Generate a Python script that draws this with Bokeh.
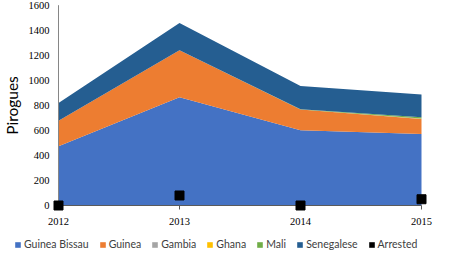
import math
from bokeh.plotting import figure
from bokeh.models import ColumnDataSource, Legend, LegendItem, Range1d, LabelSet, Label
from bokeh.embed import file_html
from bokeh.resources import INLINE

# ---- data ----
years = [2012, 2013, 2014, 2015]
year_labels = ["2012", "2013", "2014", "2015"]
guinea_bissau = [473, 864, 601, 571]
guinea = [203, 376, 165, 120]
gambia = [0, 0, 0, 2]
ghana = [0, 0, 0, 2]
mali = [0, 0, 3, 10]
senegalese = [143, 218, 185, 181]
arrested = [0, 80, 0, 50]
y_ticks = [0, 200, 400, 600, 800, 1000, 1200, 1400, 1600]
y_tick_labels = ["0", "200", "400", "600", "800", "1000", "1200", "1400", "1600"]

series = ["Guinea Bissau", "Guinea", "Gambia", "Ghana", "Mali", "Senegalese"]
colors = ["#4472C4", "#ED7D31", "#A5A5A5", "#FFC000", "#70AD47", "#255E91"]

# ---- layout (pixel anchors in a 438x252 canvas) ----
W, H = 438, 252
PX_X0, PX_X1 = 58.0, 421.0      # pixel of first / last year
PX_Y0, PX_Y1 = 205.0, 4.7       # pixel of 0 / top tick
kx = (PX_X1 - PX_X0) / (years[-1] - years[0])
ky = (PX_Y0 - PX_Y1) / (y_ticks[-1] - y_ticks[0])
x_start = years[0] - PX_X0 / kx
x_end = years[-1] + (W - PX_X1) / kx
y_end = y_ticks[-1] + PX_Y1 / ky
y_start = y_ticks[0] - (H - PX_Y0) / ky

def dx(px):
    return x_start + px / kx

def dy(py):
    return y_end - py / ky

FONT = "Lato"
p = figure(width=W, height=H, output_backend="svg", toolbar_location=None,
           x_range=Range1d(x_start, x_end), y_range=Range1d(y_start, y_end),
           min_border=0, min_border_left=0, min_border_right=0,
           min_border_top=0, min_border_bottom=0)
p.outline_line_color = None
p.grid.visible = False
p.axis.visible = False

src = ColumnDataSource(dict(x=years, gb=guinea_bissau, gu=guinea, ga=gambia,
                            gh=ghana, ma=mali, se=senegalese, ar=arrested))

areas = p.varea_stack(stackers=["gb", "gu", "ga", "gh", "ma", "se"], x="x",
                      color=colors, source=src)

# axis lines and ticks
p.segment(x0=[years[0]], y0=[y_ticks[0]], x1=[years[0]], y1=[y_ticks[-1]],
          line_color="#868686", line_width=1)
p.segment(x0=[years[0]], y0=[0], x1=[years[-1]], y1=[0],
          line_color="#5A5A5A", line_width=1.2)
p.segment(x0=years, y0=[0] * len(years), x1=years, y1=[dy(PX_Y0 + 4)] * len(years),
          line_color="#5A5A5A", line_width=1)

pts = p.scatter(x="x", y="ar", source=src, marker="square", size=9,
                fill_color="black", line_color="black")

# legend proxy for Arrested (zero-height area, black fill)
proxy = p.varea(x=[years[0], years[0]], y1=[0, 0], y2=[0, 0], fill_color="black")

# y tick labels
ysrc = ColumnDataSource(dict(x=[years[0]] * len(y_ticks), y=y_ticks, t=y_tick_labels))
p.add_layout(LabelSet(x="x", y="y", text="t", source=ysrc, x_offset=-9,
                      text_align="right", text_baseline="middle",
                      text_font=FONT, text_font_size="10.5px", text_color="#000000"))

# x tick labels
xsrc = ColumnDataSource(dict(x=years, y=[0] * len(years), t=year_labels))
p.add_layout(LabelSet(x="x", y="y", text="t", source=xsrc, y_offset=-16,
                      text_align="center", text_baseline="middle",
                      text_font=FONT, text_font_size="10.5px", text_color="#000000"))

# y axis title
p.add_layout(Label(x=dx(11.8), y=dy(105), text="Pirogues", angle=math.pi / 2,
                   text_align="center", text_baseline="middle",
                   text_font=FONT, text_font_size="15.5px", text_color="#000000"))

items = [LegendItem(label=n, renderers=[r]) for n, r in zip(series, areas)]
items.append(LegendItem(label="Arrested", renderers=[proxy]))
legend = Legend(items=items, orientation="horizontal", location=(14, 2),
                glyph_width=7, glyph_height=7, label_standoff=3, spacing=10,
                padding=0, margin=0, background_fill_alpha=0, border_line_color=None,
                label_text_font=FONT, label_text_font_size="10.5px",
                label_text_color="#404040", label_height=12, label_text_baseline="middle")
p.add_layout(legend, "center")

open("out.html", "w").write(file_html(p, INLINE))
